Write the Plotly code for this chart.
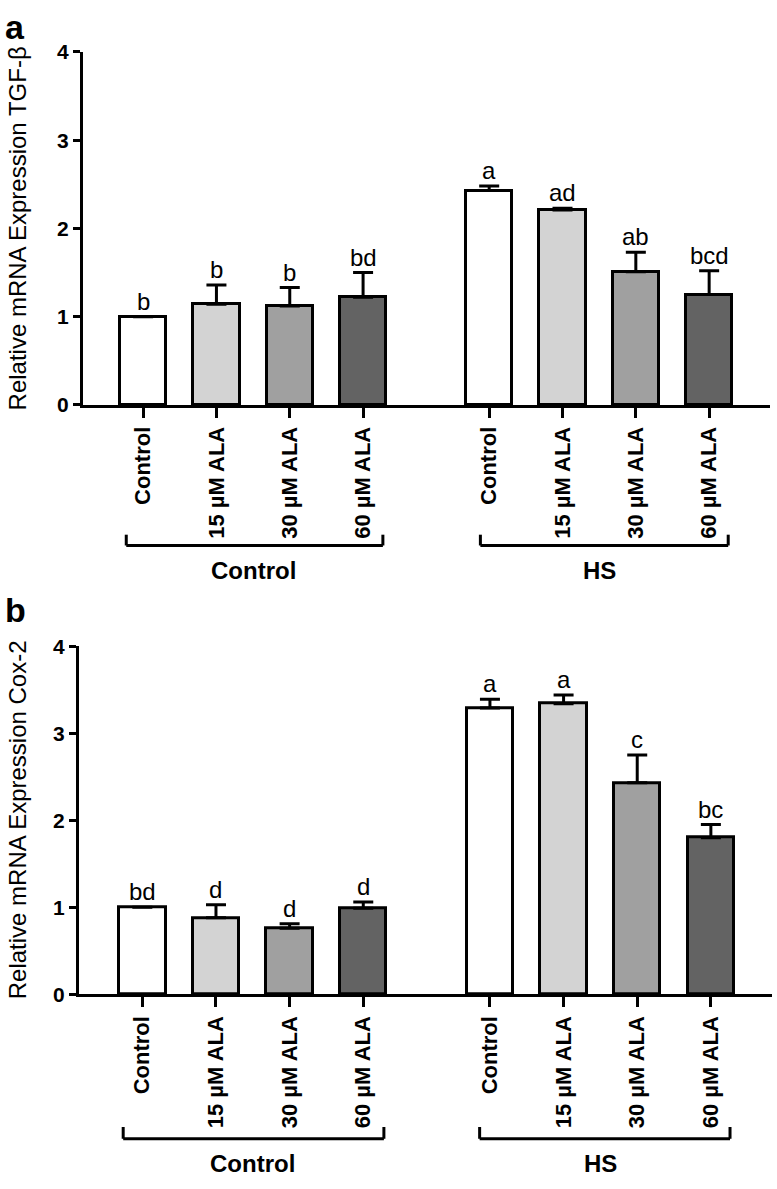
import plotly.graph_objects as go

# ---- data ----
groups = ["Control", "HS"]
treatments = ["Control", "15 µM ALA", "30 µM ALA", "60 µM ALA"]

tgf_mean = [1.00, 1.14, 1.12, 1.22, 2.43, 2.21, 1.51, 1.25]
tgf_err = [0.00, 0.22, 0.21, 0.28, 0.05, 0.02, 0.22, 0.27]
tgf_letters = ["b", "b", "b", "bd", "a", "ad", "ab", "bcd"]

cox_mean = [1.00, 0.88, 0.76, 0.99, 3.29, 3.34, 2.43, 1.80]
cox_err = [0.00, 0.15, 0.05, 0.07, 0.10, 0.10, 0.32, 0.15]
cox_letters = ["bd", "d", "d", "d", "a", "a", "c", "bc"]

# ---- style ----
W, H = 777, 1189
FONT = "Liberation Sans, Arial, sans-serif"
bar_colors = ["#ffffff", "#d3d3d3", "#a0a0a0", "#636363"]
GROUP_GAP = 1.72  # extra space between the two groups, in bar slots

xpos = [i if g == 0 else 3 + GROUP_GAP + i for g in range(len(groups)) for i in range(len(treatments))]
labels = treatments * len(groups)
colors = bar_colors * len(groups)


def py(px):
    return 1 - px / H


panels = [
    dict(mean=tgf_mean, err=tgf_err, letters=tgf_letters,
         ytitle="Relative mRNA Expression TGF-β", tag="a",
         xdom=[83 / W, 770 / W], xr=[-0.82, 8.55], top=40.7, bottom=400.7,
         br_top=533, br_line=544, grp_y=570, tag_y=15,
         pads=[(0.23, 0.27), (0.12, 0.26)]),
    dict(mean=cox_mean, err=cox_err, letters=cox_letters,
         ytitle="Relative mRNA Expression Cox-2", tag="b",
         xdom=[79 / W, 772 / W], xr=[-0.86, 8.55], top=646.7, bottom=1001.7,
         br_top=1137, br_line=1149, grp_y=1174, tag_y=610,
         pads=[(0.26, 0.28), (0.14, 0.26)]),
]

fig = go.Figure()
annotations = []
shapes = []

for k, p in enumerate(panels):
    sx = "" if k == 0 else str(k + 1)
    xa, ya = "x" + sx, "y" + sx
    fig.add_trace(go.Bar(
        x=xpos, y=p["mean"], width=0.63,
        marker=dict(color=colors, line=dict(color="black", width=3)),
        error_y=dict(type="data", symmetric=False, array=p["err"],
                     arrayminus=[0] * len(p["err"]),
                     color="black", thickness=3, width=10),
        xaxis=xa, yaxis=ya, showlegend=False,
    ))
    axis_common = dict(showline=True, linecolor="black", linewidth=3,
                       ticks="outside", tickwidth=3, tickcolor="black",
                       showgrid=False, zeroline=False)
    fig.layout["xaxis" + sx] = dict(
        axis_common, domain=p["xdom"], range=p["xr"], anchor=ya,
        tickvals=xpos, ticktext=labels, tickangle=-90, ticklen=10,
        tickfont=dict(family=FONT, size=22, color="black", weight="bold"),
    )
    fig.layout["yaxis" + sx] = dict(
        axis_common, domain=[py(p["bottom"]), py(p["top"])], range=[0, 4],
        anchor=xa, tickvals=[0, 1, 2, 3, 4], ticklen=7,
        tickfont=dict(family=FONT, size=21, color="black", weight="bold"),
    )

    # significance letters
    for x, m, e, t in zip(xpos, p["mean"], p["err"], p["letters"]):
        annotations.append(dict(
            x=x, y=m + e, xref=xa, yref=ya, text=t, showarrow=False,
            yanchor="bottom", yshift=0,
            font=dict(family=FONT, size=24, color="black")))

    # group brackets and labels
    for g, name in enumerate(groups):
        gx = xpos[g * 4:(g + 1) * 4]
        x0, x1 = gx[0] - p["pads"][g][0], gx[-1] + p["pads"][g][1]
        for seg in [(x0, p["br_top"], x0, p["br_line"]),
                    (x0, p["br_line"], x1, p["br_line"]),
                    (x1, p["br_line"], x1, p["br_top"])]:
            shapes.append(dict(type="line", xref=xa, yref="paper",
                               x0=seg[0], y0=py(seg[1]), x1=seg[2], y1=py(seg[3]),
                               line=dict(color="black", width=3)))
        annotations.append(dict(
            x=sum(gx) / len(gx), y=py(p["grp_y"]), xref=xa, yref="paper",
            text=name, showarrow=False, yanchor="middle",
            font=dict(family=FONT, size=24, color="black", weight="bold")))

    # y title
    annotations.append(dict(
        x=17 / W, y=py((p["top"] + p["bottom"]) / 2), xref="paper", yref="paper",
        text=p["ytitle"], textangle=-90, showarrow=False,
        xanchor="center", yanchor="middle",
        font=dict(family=FONT, size=24, color="black")))

    # panel tag
    annotations.append(dict(
        x=15 / W, y=py(p["tag_y"]), xref="paper", yref="paper",
        text=p["tag"], showarrow=False, xanchor="center", yanchor="middle",
        font=dict(family=FONT, size=34, color="black", weight="bold")))

fig.update_layout(
    width=W, height=H,
    margin=dict(l=0, r=0, t=0, b=0),
    plot_bgcolor="white", paper_bgcolor="white",
    bargap=0, annotations=annotations, shapes=shapes,
    font=dict(family=FONT, color="black"),
)

# drop the browser's default 8px body margin so the figure fills the window
fig.write_html("out.html", config={"displayModeBar": False},
               post_script="document.body.style.margin='0';")
